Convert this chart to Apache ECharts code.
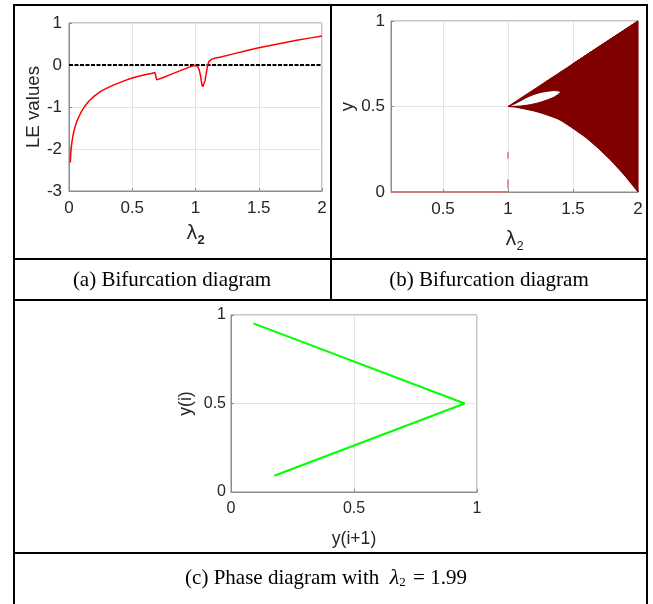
<!DOCTYPE html>
<html>
<head>
<meta charset="utf-8">
<script src="https://cdn.jsdelivr.net/npm/echarts@6/dist/echarts.min.js"></script>
<style>
  html, body { margin: 0; padding: 0; background: #ffffff; }
  #chart { width: 653px; height: 604px; }
</style>
</head>
<body>
<div id="chart"></div>
<script>
// ---- (a) Lyapunov exponent against lambda2 ----
const leLambda = [0.01, 0.015, 0.02, 0.03, 0.04, 0.05, 0.06, 0.08, 0.10, 0.13, 0.16, 0.20, 0.25, 0.30, 0.35,
  0.40, 0.45, 0.50, 0.55, 0.60, 0.65, 0.68, 0.693, 0.75, 0.80, 0.85, 0.90, 0.95, 0.99, 1.00, 1.015, 1.03,
  1.04, 1.05, 1.057, 1.065, 1.075, 1.085, 1.095, 1.105, 1.115, 1.13, 1.16, 1.20, 1.30, 1.40, 1.50, 1.60,
  1.70, 1.80, 1.90, 2.00];
const leValues = [-2.32, -2.05, -1.90, -1.70, -1.56, -1.45, -1.36, -1.22, -1.10, -0.96, -0.85, -0.74, -0.63,
  -0.55, -0.48, -0.42, -0.36, -0.31, -0.27, -0.23, -0.20, -0.18, -0.355, -0.29, -0.23, -0.17, -0.11, -0.05,
  -0.01, 0.0, -0.03, -0.12, -0.26, -0.46, -0.52, -0.49, -0.38, -0.20, -0.02, 0.08, 0.12, 0.14, 0.165, 0.19,
  0.265, 0.34, 0.41, 0.47, 0.53, 0.59, 0.64, 0.69];
const zeroRefLambda = [0, 2];

// ---- (b) bifurcation diagram: envelope of the chaotic band ----
const bifLambda = [1.00, 1.05, 1.10, 1.15, 1.20, 1.25, 1.30, 1.35, 1.38, 1.41, 1.50, 1.60, 1.70, 1.80, 1.90, 2.00];
const bifUpper  = [0.500, 0.525, 0.550, 0.575, 0.600, 0.625, 0.650, 0.675, 0.690, 0.705, 0.750, 0.800, 0.850, 0.900, 0.950, 1.000];
const bifLower  = [0.500, 0.497, 0.490, 0.482, 0.474, 0.463, 0.451, 0.437, 0.428, 0.417, 0.372, 0.318, 0.252, 0.178, 0.094, 0.000];
// periodic window (white lens) inside the band
const holeTop    = [0.500, 0.515, 0.535, 0.555, 0.571, 0.582, 0.589, 0.593, 0.592, 0.587, null, null, null, null, null, null];
const holeBottom = [0.500, 0.501, 0.503, 0.508, 0.515, 0.525, 0.538, 0.553, 0.567, 0.587, null, null, null, null, null, null];
// stable fixed point y = 0 for lambda2 < 1, and transient points at lambda2 = 1
const fixedLambda = [0.1, 1.0];
const fixedY = [0, 0];
const transientLow = [0.02, 0.075];
const transientHigh = [0.195, 0.235];

// ---- (c) phase diagram, lambda2 = 1.99 ----
const phaseNext = [0.091, 0.950, 0.176];
const phaseCurr = [0.953, 0.500, 0.092];

// ---- tick values ----
const ticksA_x = [0, 2, 0.5];      // min, max, step
const ticksA_y = [-3, 1, 1];
const ticksB_x = [0.5, 1, 1.5, 2];
const ticksB_y = [0, 1, 0.5];
const ticksC = [0, 1, 0.5];

const pair = (xs, ys) => xs.map((x, i) => [x, ys[i]]);

const darkRed = '#800000';
const tickFont = 'Liberation Sans, Arial, sans-serif';
const serif = 'Liberation Serif, Times New Roman, serif';

function axisBase(fontSize, margin) {
  return {
    type: 'value',
    axisLine: { show: true, onZero: false, lineStyle: { color: '#8c8c8c', width: 1 } },
    axisTick: { show: true, inside: true, length: 3, lineStyle: { color: '#8c8c8c' } },
    splitLine: { show: true, lineStyle: { color: '#e4e4e4', width: 1 } },
    axisLabel: { color: '#262626', fontFamily: tickFont, fontSize: fontSize, margin: margin },
    nameLocation: 'middle',
    nameTextStyle: { color: '#262626', fontFamily: tickFont, fontSize: Math.round(fontSize * 1.1 * 10) / 10 }
  };
}

const lambdaRich = (bold) => ({
  l: { fontSize: 19, fontFamily: 'DejaVu Sans, sans-serif', color: '#262626' },
  s: { fontSize: 13, fontFamily: tickFont, fontWeight: bold ? 'bold' : 'normal', color: '#262626', padding: [12, 0, 0, 0] }
});

// band slices between consecutive lambda samples:
// [l0, l1, lower0, holeBottom0, holeTop0, upper0, lower1, holeBottom1, holeTop1, upper1]
const hb = holeBottom.map((v, i) => v == null ? bifUpper[i] : v);
const ht = holeTop.map((v, i) => v == null ? bifUpper[i] : v);
const bandSlices = [];
for (let i = 0; i < bifLambda.length - 1; i++) {
  bandSlices.push([bifLambda[i], bifLambda[i + 1],
    bifLower[i], hb[i], ht[i], bifUpper[i],
    bifLower[i + 1], hb[i + 1], ht[i + 1], bifUpper[i + 1]]);
}

function renderBand(params, api) {
  const l0 = api.value(0), l1 = api.value(1);
  const c = (l, y) => api.coord([l, y]);
  const lowerPart = [c(l0, api.value(2)), c(l1, api.value(6)), c(l1, api.value(7)), c(l0, api.value(3))];
  const upperPart = [c(l0, api.value(4)), c(l1, api.value(8)), c(l1, api.value(9)), c(l0, api.value(5))];
  const style = { fill: darkRed, stroke: darkRed, lineWidth: 1, lineJoin: 'round' };
  return {
    type: 'group',
    children: [
      { type: 'polygon', shape: { points: lowerPart }, style: style },
      { type: 'polygon', shape: { points: upperPart }, style: style }
    ]
  };
}

const option = {
  animation: false,
  backgroundColor: '#ffffff',
  grid: [
    { left: 69, top: 23, width: 253, height: 168, show: true, borderColor: '#8c8c8c', borderWidth: 1 },
    { left: 391, top: 21, width: 247, height: 171, show: true, borderColor: '#8c8c8c', borderWidth: 1 },
    { left: 231, top: 315, width: 246, height: 177, show: true, borderColor: '#8c8c8c', borderWidth: 1 }
  ],
  xAxis: [
    Object.assign(axisBase(17, 9), { gridIndex: 0, min: ticksA_x[0], max: ticksA_x[1], interval: ticksA_x[2],
      name: '{l|λ}{s|2}', nameGap: 31, nameTextStyle: { rich: lambdaRich(true) } }),
    Object.assign(axisBase(17, 9), { gridIndex: 1, min: 0.1, max: 2,
      axisLabel: { color: '#262626', fontFamily: tickFont, fontSize: 17, margin: 9, customValues: ticksB_x },
      axisTick: { show: true, inside: true, length: 3, lineStyle: { color: '#8c8c8c' }, customValues: ticksB_x },
      name: '{l|λ}{s|2}', nameGap: 36, nameTextStyle: { rich: lambdaRich(false) } }),
    Object.assign(axisBase(16, 9), { gridIndex: 2, min: ticksC[0], max: ticksC[1], interval: ticksC[2],
      name: 'y(i+1)', nameGap: 38 })
  ],
  yAxis: [
    Object.assign(axisBase(17, 7), { gridIndex: 0, min: ticksA_y[0], max: ticksA_y[1], interval: ticksA_y[2],
      name: 'LE values', nameGap: 22 }),
    Object.assign(axisBase(17, 6), { gridIndex: 1, min: ticksB_y[0], max: ticksB_y[1], interval: ticksB_y[2],
      name: 'y', nameGap: 33 }),
    Object.assign(axisBase(16, 5), { gridIndex: 2, min: ticksC[0], max: ticksC[1], interval: ticksC[2],
      name: 'y(i)', nameGap: 36 })
  ],
  series: [
    // (a)
    { type: 'line', xAxisIndex: 0, yAxisIndex: 0, data: pair(zeroRefLambda, [0, 0]), showSymbol: false,
      lineStyle: { color: '#000000', width: 1.8, type: [4, 1.5] }, z: 3 },
    { type: 'line', xAxisIndex: 0, yAxisIndex: 0, data: pair(leLambda, leValues), showSymbol: false,
      lineStyle: { color: '#ff0000', width: 1.5 }, z: 4 },
    // (b)
    { type: 'custom', xAxisIndex: 1, yAxisIndex: 1, data: bandSlices, renderItem: renderBand, silent: true,
      encode: { x: [0, 1], y: [2, 3, 4, 5, 6, 7, 8, 9] }, z: 2 },
    { type: 'line', xAxisIndex: 1, yAxisIndex: 1, data: pair(fixedLambda, fixedY), showSymbol: false,
      lineStyle: { color: '#cc7a7a', width: 2 }, z: 3 },
    { type: 'line', xAxisIndex: 1, yAxisIndex: 1, data: pair([1, 1], transientLow), showSymbol: false,
      lineStyle: { color: '#cc7a7a', width: 1.5 }, z: 3 },
    { type: 'line', xAxisIndex: 1, yAxisIndex: 1, data: pair([1, 1], transientHigh), showSymbol: false,
      lineStyle: { color: '#cc7a7a', width: 1.5 }, z: 3 },
    // (c)
    { type: 'line', xAxisIndex: 2, yAxisIndex: 2, data: pair(phaseNext, phaseCurr), showSymbol: false,
      lineStyle: { color: '#00ff00', width: 2 }, z: 3 }
  ],
  graphic: [
    // table rules
    { type: 'line', shape: { x1: 13, y1: 5, x2: 648, y2: 5 }, style: { stroke: '#000', lineWidth: 2 } },
    { type: 'line', shape: { x1: 14, y1: 4, x2: 14, y2: 604 }, style: { stroke: '#000', lineWidth: 2 } },
    { type: 'line', shape: { x1: 647, y1: 4, x2: 647, y2: 604 }, style: { stroke: '#000', lineWidth: 2 } },
    { type: 'line', shape: { x1: 331, y1: 4, x2: 331, y2: 300 }, style: { stroke: '#000', lineWidth: 2 } },
    { type: 'line', shape: { x1: 13, y1: 259, x2: 648, y2: 259 }, style: { stroke: '#000', lineWidth: 2 } },
    { type: 'line', shape: { x1: 13, y1: 300, x2: 648, y2: 300 }, style: { stroke: '#000', lineWidth: 2 } },
    { type: 'line', shape: { x1: 13, y1: 553, x2: 648, y2: 553 }, style: { stroke: '#000', lineWidth: 2 } },
    // captions
    { type: 'text', x: 172, y: 280, style: { text: '(a) Bifurcation diagram', align: 'center', verticalAlign: 'middle',
      font: '21px ' + serif, fill: '#000' } },
    { type: 'text', x: 489, y: 280, style: { text: '(b) Bifurcation diagram', align: 'center', verticalAlign: 'middle',
      font: '21px ' + serif, fill: '#000' } },
    { type: 'text', x: 326, y: 578, style: {
      text: '{t|(c) Phase diagram with  }{l|λ}{s|2}{t| = 1.99}', align: 'center', verticalAlign: 'middle',
      fill: '#000',
      rich: {
        t: { font: '21px ' + serif, fill: '#000' },
        l: { font: 'italic 22px ' + serif, fill: '#000' },
        s: { font: '13px ' + serif, fill: '#000', padding: [10, 2, 0, 0] }
      } } }
  ]
};

const chart = echarts.init(document.getElementById('chart'), null, { renderer: 'canvas' });
chart.setOption(option);
</script>
</body>
</html>
